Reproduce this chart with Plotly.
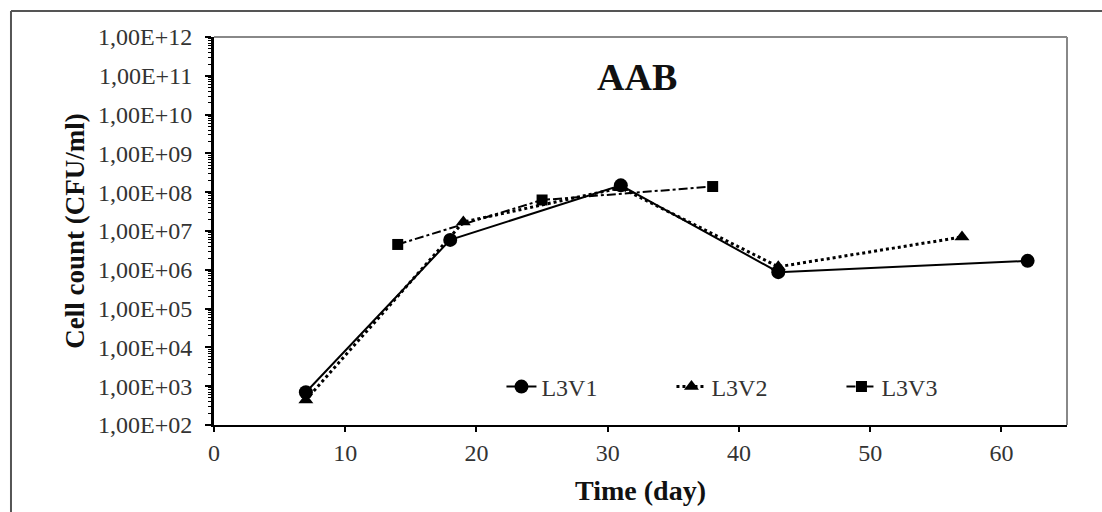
import plotly.graph_objects as go

# Sampling days and cell counts (CFU/ml) for each line
days_v1 = [7, 18, 31, 43, 62]
counts_v1 = [7.0e2, 5.9e6, 1.5e8, 8.7e5, 1.7e6]

days_v2 = [7, 19, 31, 43, 57]
counts_v2 = [4.4e2, 1.7e7, 1.3e8, 1.2e6, 7.0e6]

days_v3 = [14, 25, 38]
counts_v3 = [4.5e6, 6.3e7, 1.4e8]

series_names = ["L3V1", "L3V2", "L3V3"]

y_tick_vals = [10.0 ** k for k in range(2, 13)]
y_tick_text = ["1,00E+%02d" % k for k in range(2, 13)]
x_tick_vals = [0, 10, 20, 30, 40, 50, 60]

FONT = "Liberation Serif"

fig = go.Figure()
fig.add_trace(go.Scatter(
    x=days_v1, y=counts_v1, name=series_names[0], mode="lines+markers",
    line=dict(color="black", width=2, dash="solid"),
    marker=dict(symbol="circle", size=14, color="black"),
))
fig.add_trace(go.Scatter(
    x=days_v2, y=counts_v2, name=series_names[1], mode="lines+markers",
    line=dict(color="black", width=3, dash="dot"),
    marker=dict(symbol="triangle-up", size=13, color="black"),
))
fig.add_trace(go.Scatter(
    x=days_v3, y=counts_v3, name=series_names[2], mode="lines+markers",
    line=dict(color="black", width=2, dash="dashdot"),
    marker=dict(symbol="square", size=11, color="black"),
))

fig.update_layout(
    width=1102, height=512,
    margin=dict(l=214, r=35, t=37, b=87, autoexpand=False),
    paper_bgcolor="white", plot_bgcolor="white",
    font=dict(family=FONT, size=22, color="#222"),
    showlegend=True,
    legend=dict(
        orientation="h", x=0.337, y=0.098, xanchor="left", yanchor="middle",
        bgcolor="rgba(0,0,0,0)", font=dict(family=FONT, size=24, color="#333"),
        entrywidth=125, entrywidthmode="pixels", tracegroupgap=0,
    ),
    xaxis=dict(
        range=[0, 65], tickvals=x_tick_vals, showgrid=False, zeroline=False,
        showline=True, linecolor="black", linewidth=2,
        ticks="outside", ticklen=5, tickwidth=1.5, tickcolor="black",
        tickfont=dict(family=FONT, size=24, color="#333"),
        title=dict(text="<b>Time (day)</b>", font=dict(family=FONT, size=28, color="#111"), standoff=16),
    ),
    yaxis=dict(
        type="log", range=[2, 12], tickvals=y_tick_vals, ticktext=y_tick_text,
        showgrid=False, zeroline=False,
        showline=True, linecolor="black", linewidth=3,
        ticks="outside", ticklen=6, tickwidth=2, tickcolor="black",
        ticklabelstandoff=8,
        minor=dict(ticks="outside", ticklen=3, tickwidth=1, tickcolor="black",
                   dtick="D1", showgrid=False),
        tickfont=dict(family=FONT, size=24, color="#333"),
        title=dict(text="<b>Cell count (CFU/ml)</b>", font=dict(family=FONT, size=27, color="#111"), standoff=6),
    ),
    annotations=[
        dict(text="<b>AAB</b>", x=(637 - 214) / 853, y=1 - (77 - 37) / 388, xref="paper", yref="paper",
             xanchor="center", yanchor="middle",
             showarrow=False, font=dict(family=FONT, size=38, color="#111")),
    ],
    shapes=[
        # gray top and right edges of the plot frame
        dict(type="line", xref="paper", yref="paper", x0=0, x1=1, y0=1, y1=1,
             line=dict(color="#888", width=2)),
        dict(type="line", xref="paper", yref="paper", x0=1, x1=1, y0=0, y1=1,
             line=dict(color="#888", width=2)),
        # outer figure border (top and left)
        dict(type="line", xref="paper", yref="paper", x0=-0.238, x1=1.1, y0=1.067, y1=1.067,
             line=dict(color="#555", width=2)),
        dict(type="line", xref="paper", yref="paper", x0=-0.238, x1=-0.238, y0=-0.3, y1=1.067,
             line=dict(color="#555", width=2)),
    ],
)

fig.write_html("out.html")
